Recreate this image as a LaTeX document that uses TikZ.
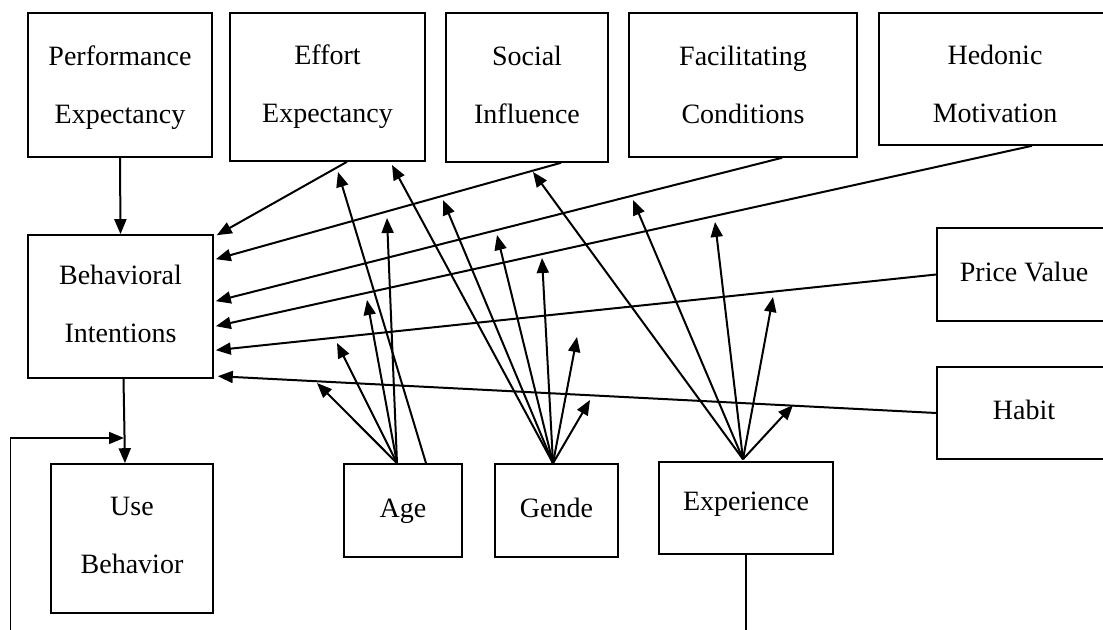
\documentclass[tikz,border=0pt]{standalone}
\usepackage{fontspec}
\setmainfont{Liberation Serif}
\usepackage{tikz}
\usetikzlibrary{calc,arrows.meta}

\tikzset{
  cbox/.style={draw,line width=0.8pt,inner sep=0pt,align=center,
    font=\fontsize{14}{29}\selectfont,
    execute at begin node=\vphantom{Hfly},execute at end node=\vphantom{Hfly}},
  lower/.style={execute at begin node={\rule{0pt}{#1}}},
  link/.style={-{Triangle[length=7.5pt,width=6pt]},line width=1pt},
}

\begin{document}
\begin{tikzpicture}[x=0.5pt,y=-0.5pt]
\useasboundingbox (0,0) rectangle (1103,630);
% constructs
\node[cbox,lower=41.6pt,minimum width=92pt,minimum height=72pt](pe)at(120,85){Performance\\Expectancy};
\node[cbox,minimum width=97.5pt,minimum height=74pt](ee)at(327.5,87){Effort\\Expectancy};
\node[cbox,minimum width=81pt,minimum height=74.5pt](si)at(527,87.5){Social\\Influence};
\node[cbox,lower=41.6pt,minimum width=114pt,minimum height=72pt](fc)at(743,85){Facilitating\\Conditions};
\node[cbox,lower=46.6pt,minimum width=116pt,minimum height=66pt](hm)at(995,79){Hedonic\\Motivation};
\node[cbox,minimum width=87pt,minimum height=46.5pt](pv)at(1024,274.5){Price Value};
\node[cbox,minimum width=87pt,minimum height=46pt](hb)at(1024,413){Habit};
\node[cbox,minimum width=92.5pt,minimum height=71.5pt](bi)at(120.5,306.5){Behavioral\\Intentions};
\node[cbox,minimum width=81pt,minimum height=74.5pt](ub)at(132,538.5){Use\\Behavior};
% moderators
\node[cbox,minimum width=59pt,minimum height=46.5pt](ag)at(403,510.5){Age};
\node[cbox,minimum width=61.5pt,minimum height=46.5pt](gd)at(556.5,510.5){Gende};
\node[cbox,minimum width=87pt,minimum height=46pt,
  execute at end node={\rule[-7pt]{0pt}{0pt}}](ex)at(746,508){Experience};

% direct paths
\draw[link](pe.south)--(bi.north);
\draw[link]($(ee.south)+(19.5,0)$)--($(bi.north east)+(3,1)$);
\draw[link]($(si.south)+(34,0)$)--($(bi.north east)+(2,25)$);
\draw[link]($(fc.south)+(39,0)$)--($(bi.north east)+(2,67)$);
\draw[link]($(hm.south)+(37,0)$)--($(bi.north east)+(2,92)$);
\draw[link](pv.west)--($(bi.north east)+(2,116)$);
\draw[link](hb.west)--($(bi.north east)+(4,142)$);
\draw[link]($(bi.south)+(3,0)$)--($(ub.north)+(-7,0)$);

% feedback from experience
\coordinate (fb) at (124,438);
\draw[-{Triangle[length=7.5pt,width=6pt]},line width=0.8pt](ex.south)--++(0,96)-|(10.5,438)--(fb);

% age
\coordinate (a0) at ($(ag.north)+(-6,0)$);
\coordinate (a1) at ($(ag.north)+(23,0)$);
\draw[link](a0)--(317,383);
\draw[link](a0)--(337,343);
\draw[link](a0)--(367,300);
\draw[link](a0)--(387,218);
\draw[link](a1)--(338,172);

% gender
\coordinate (g0) at ($(gd.north)+(-3.5,0)$);
\draw[link](g0)--(392,165);
\draw[link](g0)--(443,200);
\draw[link](g0)--(497,235);
\draw[link](g0)--(542,258);
\draw[link](g0)--(577,337);
\draw[link](g0)--(590,400);

% experience
\coordinate (e0) at ($(ex.north)+(-3,-2)$);
\draw[link](e0)--(533,172);
\draw[link](e0)--(633,200);
\draw[link](e0)--(715,222);
\draw[link](e0)--(773,297);
\draw[link](e0)--(793,405);
\end{tikzpicture}
\end{document}
